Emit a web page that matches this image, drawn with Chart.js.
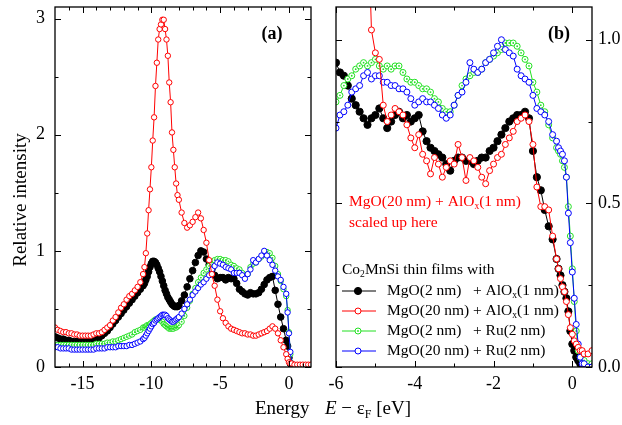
<!DOCTYPE html>
<html>
<head>
<meta charset="utf-8">
<script src="https://cdn.jsdelivr.net/npm/chart.js@4.4.0/dist/chart.umd.min.js"></script>
<style>
  body { margin: 0; background: #fff; width: 622px; height: 425px; overflow: hidden; position: relative;
         font-family: "Liberation Serif", "Times New Roman", serif; }
  #wrapA { position: absolute; left: 0; top: 0; width: 320px; height: 425px; }
  #wrapB { position: absolute; left: 320px; top: 0; width: 302px; height: 425px; }
  .xt { position: absolute; top: 398px; font-size: 19px; line-height: 20px; white-space: pre; color: #000; }
  .xt sub { font-size: 12px; vertical-align: -4px; line-height: 0; }
</style>
</head>
<body>
<div id="wrapA"><canvas id="chartA" width="320" height="425"></canvas></div>
<div id="wrapB"><canvas id="chartB" width="302" height="425"></canvas></div>
<div class="xt" style="left:255px">Energy</div>
<div class="xt" style="left:325px"><i>E</i> − ε<sub>F</sub> [eV]</div>

<script>
// ---- panel (a): full valence band ----
const energyA = [
  -17.0, -16.8, -16.6, -16.4, -16.2, -16.0, -15.8, -15.6, -15.4, -15.2,
  -15.0, -14.8, -14.6, -14.4, -14.2, -14.0, -13.8, -13.6, -13.4, -13.2,
  -13.0, -12.8, -12.6, -12.4, -12.2, -12.0, -11.8, -11.6, -11.4, -11.2,
  -11.0, -10.8, -10.6,
  -10.5, -10.4, -10.3, -10.2, -10.1, -10.0, -9.9, -9.8, -9.7, -9.6,
  -9.5, -9.4, -9.3, -9.2, -9.1, -9.0, -8.9, -8.8, -8.7, -8.6,
  -8.5, -8.4, -8.3, -8.2, -8.1, -8.0,
  -7.8, -7.6, -7.4, -7.2, -7.0, -6.8, -6.6, -6.4, -6.2, -6.0,
  -5.8, -5.6, -5.4, -5.2, -5.0, -4.8, -4.6, -4.4, -4.2, -4.0,
  -3.8, -3.6, -3.4, -3.2, -3.0, -2.8, -2.6, -2.4, -2.2, -2.0,
  -1.8, -1.6, -1.4, -1.2, -1.0, -0.8, -0.6, -0.4, -0.2, -0.1,
  0.0, 0.1, 0.2, 0.4, 0.6, 0.8, 1.0, 1.2, 1.4, 1.6
];
const blackA = [
  0.26, 0.25, 0.24, 0.24, 0.23, 0.23, 0.22, 0.22, 0.22, 0.22,
  0.22, 0.22, 0.22, 0.22, 0.23, 0.24, 0.25, 0.27, 0.29, 0.31,
  0.34, 0.37, 0.40, 0.43, 0.46, 0.49, 0.52, 0.55, 0.58, 0.61,
  0.64, 0.67, 0.70,
  0.72, 0.75, 0.78, 0.82, 0.86, 0.89, 0.91, 0.91, 0.90, 0.88,
  0.85, 0.82, 0.78, 0.74, 0.70, 0.66, 0.63, 0.60, 0.58, 0.56,
  0.54, 0.53, 0.52, 0.52, 0.52, 0.53,
  0.57, 0.62, 0.69, 0.76, 0.83, 0.90, 0.96, 1.00, 0.99, 0.93,
  0.88, 0.84, 0.79, 0.76, 0.77, 0.77, 0.75, 0.77, 0.76, 0.76,
  0.72, 0.67, 0.65, 0.63, 0.62, 0.64, 0.63, 0.63, 0.64, 0.67,
  0.71, 0.75, 0.77, 0.78, 0.66, 0.54, 0.43, 0.33, 0.23, 0.18,
  0.08, 0.03, 0.01, 0.0, 0.0, 0.0, 0.0, 0.0, 0.0, 0.0
];
const redA = [
  0.34, 0.32, 0.31, 0.30, 0.30, 0.29, 0.29, 0.28, 0.28, 0.27,
  0.27, 0.27, 0.27, 0.27, 0.28, 0.29, 0.29, 0.30, 0.32, 0.34,
  0.36, 0.40, 0.43, 0.47, 0.51, 0.54, 0.58, 0.61, 0.63, 0.66,
  0.69, 0.73, 0.80,
  0.86, 0.98, 1.15, 1.35, 1.53, 1.72, 1.95, 2.15, 2.42, 2.62,
  2.82, 2.91, 2.95, 2.99, 2.99, 2.91, 2.82, 2.68, 2.45, 2.28,
  2.02, 1.87, 1.72, 1.58, 1.48, 1.44,
  1.33, 1.24, 1.20, 1.22, 1.25, 1.29, 1.33, 1.28, 1.18, 1.07,
  0.92, 0.80, 0.70, 0.58, 0.48, 0.42, 0.38, 0.35, 0.33, 0.32,
  0.31, 0.30, 0.29, 0.29, 0.28, 0.28, 0.27, 0.27, 0.28, 0.29,
  0.30, 0.31, 0.33, 0.35, 0.33, 0.29, 0.23, 0.17, 0.11, 0.07,
  0.04, 0.03, 0.03, 0.02, 0.02, 0.02, 0.02, 0.02, 0.02, 0.02
];
const greenA = [
  0.19, 0.19, 0.19, 0.19, 0.19, 0.19, 0.19, 0.19, 0.19, 0.19,
  0.19, 0.19, 0.19, 0.19, 0.19, 0.20, 0.20, 0.20, 0.20, 0.21,
  0.21, 0.22, 0.22, 0.23, 0.24, 0.25, 0.26, 0.27, 0.28, 0.30,
  0.31, 0.32, 0.34,
  0.34, 0.35, 0.36, 0.36, 0.37, 0.38, 0.39, 0.40, 0.41, 0.41,
  0.41, 0.41, 0.40, 0.39, 0.37, 0.36, 0.35, 0.34, 0.33, 0.33,
  0.33, 0.33, 0.34, 0.34, 0.35, 0.36,
  0.39, 0.44, 0.51, 0.57, 0.63, 0.68, 0.73, 0.77, 0.81, 0.84,
  0.87, 0.90, 0.92, 0.93, 0.93, 0.92, 0.92, 0.91, 0.88, 0.87,
  0.85, 0.84, 0.81, 0.78, 0.80, 0.86, 0.89, 0.90, 0.93, 0.95,
  0.97, 0.99, 0.98, 0.94, 0.87, 0.80, 0.74, 0.67, 0.61, 0.49,
  0.30, 0.11, 0.03, 0.01, 0.01, 0.01, 0.01, 0.01, 0.01, 0.01
];
const blueA = [
  0.17, 0.17, 0.16, 0.16, 0.16, 0.16, 0.15, 0.15, 0.15, 0.15,
  0.15, 0.15, 0.15, 0.15, 0.15, 0.16, 0.16, 0.16, 0.16, 0.17,
  0.17, 0.17, 0.17, 0.18, 0.18, 0.18, 0.18, 0.19, 0.19, 0.20,
  0.21, 0.22, 0.24,
  0.25, 0.27, 0.29, 0.31, 0.33, 0.35, 0.37, 0.38, 0.40, 0.41,
  0.42, 0.43, 0.44, 0.45, 0.45, 0.45, 0.44, 0.42, 0.41, 0.40,
  0.39, 0.39, 0.40, 0.41, 0.42, 0.43,
  0.46, 0.50, 0.54, 0.58, 0.62, 0.65, 0.68, 0.71, 0.73, 0.76,
  0.79, 0.84, 0.87, 0.90, 0.89, 0.88, 0.86, 0.85, 0.84, 0.81,
  0.81, 0.81, 0.79, 0.76, 0.80, 0.84, 0.92, 0.90, 0.93, 0.96,
  1.00, 0.96, 0.92, 0.88, 0.83, 0.78, 0.75, 0.69, 0.63, 0.47,
  0.29, 0.13, 0.03, 0.01, 0.01, 0.01, 0.01, 0.01, 0.01, 0.01
];

// ---- panel (b): near the Fermi edge, red curve scaled up ----
const energyB = [
  -6.0, -5.9, -5.8, -5.7, -5.6, -5.5, -5.4, -5.3, -5.2, -5.1,
  -5.0, -4.9, -4.8, -4.7, -4.6, -4.5, -4.4, -4.3, -4.2, -4.1,
  -4.0, -3.9, -3.8, -3.7, -3.6, -3.5, -3.4, -3.3, -3.2, -3.1,
  -3.0, -2.9, -2.8, -2.7, -2.6, -2.5, -2.4, -2.3, -2.2, -2.1,
  -2.0, -1.9, -1.8, -1.7, -1.6, -1.5, -1.4, -1.3, -1.2, -1.1,
  -1.0, -0.9, -0.8, -0.7, -0.6, -0.5, -0.4, -0.35, -0.3, -0.25,
  -0.2, -0.15, -0.1, -0.05, 0.0, 0.05, 0.1, 0.15, 0.2, 0.25,
  0.3, 0.4, 0.5
];
const blackB = [
  0.93, 0.90, 0.89, 0.86, 0.82, 0.80, 0.78, 0.76, 0.74, 0.76,
  0.77, 0.79, 0.76, 0.73, 0.75, 0.77, 0.78, 0.76, 0.77, 0.75,
  0.76, 0.77, 0.72, 0.69, 0.67, 0.66, 0.65, 0.64, 0.62, 0.60,
  0.63, 0.64, 0.64, 0.63, 0.63, 0.62, 0.63, 0.64, 0.64, 0.66,
  0.67, 0.69, 0.71, 0.73, 0.75, 0.76, 0.77, 0.77, 0.78, 0.76,
  0.66, 0.58, 0.54, 0.48, 0.43, 0.39, 0.33, 0.30, 0.28, 0.25,
  0.23, 0.21, 0.17, 0.11, 0.07, 0.05, 0.03, 0.02, 0.01, 0.005,
  0.0, 0.0, 0.0
];
const redB = [
  2.60, 2.40, 2.30, 2.10, 1.95, 1.85, 1.70, 1.55, 1.42, 1.03,
  0.96, 0.94, 0.80, 0.75, 0.77, 0.79, 0.78, 0.77, 0.74, 0.70,
  0.67, 0.71, 0.65, 0.63, 0.59, 0.64, 0.62, 0.58, 0.61, 0.63,
  0.62, 0.68, 0.64, 0.57, 0.64, 0.63, 0.61, 0.58, 0.56, 0.60,
  0.62, 0.64, 0.65, 0.68, 0.70, 0.72, 0.75, 0.76, 0.77, 0.75,
  0.68, 0.55, 0.49, 0.49, 0.48, 0.40, 0.33, 0.30, 0.27, 0.245,
  0.23, 0.20, 0.16, 0.12, 0.10, 0.08, 0.07, 0.06, 0.05, 0.05,
  0.04, 0.04, 0.05
];
const greenB = [
  0.81, 0.83, 0.86, 0.88, 0.89, 0.91, 0.92, 0.93, 0.92, 0.93,
  0.94, 0.92, 0.91, 0.92, 0.91, 0.92, 0.92, 0.90, 0.88, 0.87,
  0.87, 0.86, 0.85, 0.85, 0.84, 0.82, 0.81, 0.79, 0.78, 0.78,
  0.80, 0.83, 0.86, 0.88, 0.89, 0.90, 0.90, 0.91, 0.93, 0.94,
  0.95, 0.96, 0.97, 0.99, 0.99, 0.99, 0.98, 0.96, 0.94, 0.92,
  0.87, 0.84, 0.80, 0.78, 0.74, 0.70, 0.67, 0.66, 0.65, 0.63,
  0.61, 0.58, 0.49, 0.40, 0.30, 0.20, 0.11, 0.05, 0.03, 0.02,
  0.02, 0.01, 0.01
];
const blueB = [
  0.73, 0.77, 0.78, 0.80, 0.84, 0.85, 0.86, 0.89, 0.90, 0.88,
  0.89, 0.89, 0.87, 0.87, 0.86, 0.86, 0.85, 0.85, 0.84, 0.82,
  0.80, 0.81, 0.82, 0.81, 0.81, 0.80, 0.79, 0.77, 0.76, 0.77,
  0.80, 0.83, 0.84, 0.87, 0.93, 0.91, 0.90, 0.91, 0.93, 0.94,
  0.96, 0.98, 1.00, 0.97, 0.96, 0.95, 0.91, 0.89, 0.88, 0.87,
  0.83, 0.79, 0.78, 0.77, 0.75, 0.71, 0.69, 0.67, 0.66, 0.65,
  0.63, 0.58, 0.47, 0.38, 0.29, 0.21, 0.13, 0.07, 0.03, 0.01,
  0.01, 0.0, 0.0
];

// axis ticks
const xTicksA = [-15, -10, -5, 0];
const xMinorA = [-16, -14, -13, -12, -11, -9, -8, -7, -6, -4, -3, -2, -1, 1];
const yTicksA = [0, 1, 2, 3];
const yMinorA = [0.5, 1.5, 2.5];
const xTicksB = [-6, -4, -2, 0];
const xMinorB = [-5, -3, -1];
const yTicksB = [0, 0.5, 1.0];
const yMinorB = [0.25, 0.75];

// legend text
const legendTitle = [['Co'], ['2', true], ['MnSi thin films with']];
const legendLeft = ['MgO(2 nm)', 'MgO(20 nm)', 'MgO(2 nm)', 'MgO(20 nm)'];
const legendRight = [
  [['+ AlO'], ['x', true], ['(1 nm)']],
  [['+ AlO'], ['x', true], ['(1 nm)']],
  [['+ Ru(2 nm)']],
  [['+ Ru(2 nm)']]
];
const noteLines = [
  [['MgO(20 nm) + AlO'], ['x', true], ['(1 nm)']],
  [['scaled up here']]
];

const FONT = '"Liberation Serif", "Times New Roman", serif';

// colour / marker per series, order: black, red, green, blue
const styles = [
  { color: '#000000', fill: '#000000', order: 3 },
  { color: '#ff0000', fill: '#ffffff', order: 0 },
  { color: '#22e022', fill: '#ffffff', order: 2, dot: true },
  { color: '#0000ff', fill: '#ffffff', order: 1 }
];

function makeSet(xs, ys, st, r) {
  return {
    data: xs.map((x, i) => ({ x: x, y: ys[i] })),
    borderColor: st.color,
    backgroundColor: st.fill,
    pointBackgroundColor: st.fill,
    pointBorderColor: st.color,
    pointRadius: st.fill === '#000000' ? r + 0.6 : r,
    pointBorderWidth: 1,
    borderWidth: 1,
    tension: 0,
    order: st.order,
    centerDot: !!st.dot
  };
}

function richText(ctx, parts, x, y, size) {
  let cx = x;
  parts.forEach(([t, sub]) => {
    ctx.font = (sub ? size * 0.62 : size) + 'px ' + FONT;
    ctx.fillText(t, cx, sub ? y + size * 0.32 : y);
    cx += ctx.measureText(t).width;
  });
}

// frame plus inward ticks on all four sides
function frameTicks(xMaj, xMin, yMaj, yMin) {
  return {
    id: 'frameTicks',
    afterDraw(chart) {
      const { ctx, chartArea: a } = chart;
      const x = chart.scales.x, y = chart.scales.y;
      ctx.save();
      ctx.strokeStyle = '#000';
      ctx.lineWidth = 1.3;
      ctx.strokeRect(a.left, a.top, a.right - a.left, a.bottom - a.top);
      ctx.lineWidth = 1;
      ctx.beginPath();
      const vx = (vals, len) => vals.forEach(v => {
        const px = Math.round(x.getPixelForValue(v)) + 0.5;
        ctx.moveTo(px, a.bottom); ctx.lineTo(px, a.bottom - len);
        ctx.moveTo(px, a.top); ctx.lineTo(px, a.top + len);
      });
      const vy = (vals, len) => vals.forEach(v => {
        const py = Math.round(y.getPixelForValue(v)) + 0.5;
        ctx.moveTo(a.left, py); ctx.lineTo(a.left + len, py);
        ctx.moveTo(a.right, py); ctx.lineTo(a.right - len, py);
      });
      vx(xMaj, 6); vx(xMin, 3.5); vy(yMaj, 6); vy(yMin, 3.5);
      ctx.stroke();
      ctx.restore();
    }
  };
}

// small centre dot inside the green circles
const centerDots = {
  id: 'centerDots',
  afterDatasetDraw(chart, args) {
    const ds = chart.data.datasets[args.index];
    if (!ds.centerDot) return;
    const { ctx, chartArea: a } = chart;
    ctx.save();
    ctx.beginPath();
    ctx.rect(a.left, a.top, a.right - a.left, a.bottom - a.top);
    ctx.clip();
    ctx.fillStyle = ds.borderColor;
    args.meta.data.forEach(p => {
      ctx.beginPath();
      ctx.arc(p.x, p.y, 0.9, 0, Math.PI * 2);
      ctx.fill();
    });
    ctx.restore();
  }
};

function xAxis(min, max, ticks) {
  return {
    type: 'linear', min: min, max: max,
    grid: { display: false, drawTicks: false },
    border: { display: false },
    afterBuildTicks: s => { s.ticks = ticks.map(v => ({ value: v })); },
    afterFit: s => { s.height = 58; s.paddingLeft = 0; s.paddingRight = 0; },
    ticks: { color: '#000', font: { family: FONT, size: 18 }, padding: 6,
             maxRotation: 0, autoSkip: false, callback: v => String(v) }
  };
}

function yAxis(max, ticks, pos, width, pad, fmt) {
  return {
    type: 'linear', min: 0, max: max, position: pos,
    grid: { display: false, drawTicks: false },
    border: { display: false },
    afterBuildTicks: s => { s.ticks = ticks.map(v => ({ value: v })); },
    afterFit: s => { s.width = width; s.paddingTop = 0; s.paddingBottom = 0; },
    ticks: { color: '#000', font: { family: FONT, size: 18 }, padding: pad,
             autoSkip: false, callback: fmt }
  };
}

const common = {
  responsive: false,
  animation: false,
  events: [],
  plugins: { legend: { display: false }, tooltip: { enabled: false } }
};

// panel (a)
new Chart(document.getElementById('chartA'), {
  type: 'line',
  data: {
    datasets: [blackA, redA, greenA, blueA].map((ys, i) => makeSet(energyA, ys, styles[i], 2.7))
  },
  options: Object.assign({}, common, {
    layout: { padding: { left: 0, right: 9, top: 7, bottom: 0 } },
    scales: {
      x: xAxis(-17, 1.6, xTicksA),
      y: yAxis(3.1, yTicksA, 'left', 55, 10, v => String(v))
    }
  }),
  plugins: [centerDots, frameTicks(xTicksA, xMinorA, yTicksA, yMinorA), {
    id: 'labelsA',
    afterDraw(chart) {
      const ctx = chart.ctx;
      ctx.save();
      ctx.fillStyle = '#000';
      ctx.font = 'bold 18px ' + FONT;
      ctx.textAlign = 'center';
      ctx.textBaseline = 'middle';
      ctx.fillText('(a)', 272, 34);
      ctx.translate(21, 200);
      ctx.rotate(-Math.PI / 2);
      ctx.font = '19px ' + FONT;
      ctx.fillText('Relative intensity', 0, 0);
      ctx.restore();
    }
  }]
});

// panel (b)
new Chart(document.getElementById('chartB'), {
  type: 'line',
  data: {
    datasets: [blackB, redB, greenB, blueB].map((ys, i) => makeSet(energyB, ys, styles[i], 3))
  },
  options: Object.assign({}, common, {
    layout: { padding: { left: 16, right: 0, top: 7, bottom: 0 } },
    scales: {
      x: xAxis(-6, 0.5, xTicksB),
      y: yAxis(1.1, yTicksB, 'right', 30, 6, v => v.toFixed(1))
    }
  }),
  plugins: [centerDots, frameTicks(xTicksB, xMinorB, yTicksB, yMinorB), {
    id: 'labelsB',
    afterDraw(chart) {
      const ctx = chart.ctx;
      const size = 15.5;
      ctx.save();
      ctx.textBaseline = 'middle';
      ctx.fillStyle = '#000';
      ctx.font = 'bold 18px ' + FONT;
      ctx.textAlign = 'center';
      ctx.fillText('(b)', 239, 34);
      ctx.textAlign = 'left';

      // red note
      ctx.fillStyle = '#ff0000';
      noteLines.forEach((parts, i) => richText(ctx, parts, 29, 202 + i * 21, size));

      // legend
      ctx.fillStyle = '#000';
      richText(ctx, legendTitle, 22, 270, size);
      const rowY = [291, 311, 331, 351];
      styles.forEach((st, i) => {
        const yy = rowY[i];
        ctx.strokeStyle = st.color;
        ctx.lineWidth = 1;
        ctx.beginPath();
        ctx.moveTo(22, yy); ctx.lineTo(56, yy);
        ctx.stroke();
        ctx.beginPath();
        ctx.arc(38, yy, st.fill === '#000000' ? 3.6 : 3, 0, Math.PI * 2);
        ctx.fillStyle = st.fill;
        ctx.fill();
        ctx.stroke();
        if (st.dot) {
          ctx.beginPath();
          ctx.arc(38, yy, 0.9, 0, Math.PI * 2);
          ctx.fillStyle = st.color;
          ctx.fill();
        }
        ctx.fillStyle = '#000';
        richText(ctx, [[legendLeft[i]]], 67, yy, size);
        richText(ctx, legendRight[i], 153, yy, size);
      });
      ctx.restore();
    }
  }]
});
</script>
</body>
</html>
